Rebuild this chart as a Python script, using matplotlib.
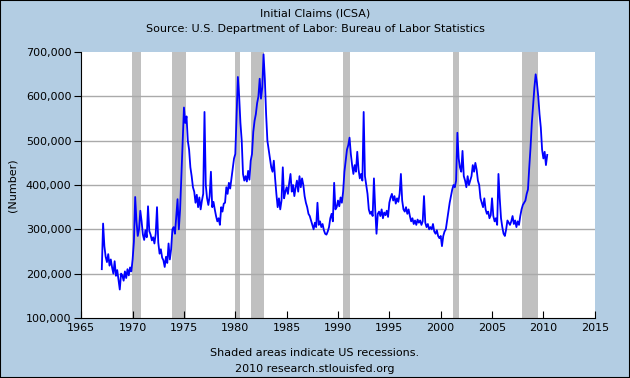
import numpy as np
import matplotlib
matplotlib.use("Agg")
from matplotlib import pyplot as plt
from matplotlib.ticker import FuncFormatter

# weekly initial claims, thousands (8 readings per year from 1967.0)
claims = [
    210, 313, 262, 238, 226, 244, 218, 232,   # 1967
    214, 200, 228, 195, 208, 186, 164, 200,   # 1968
    196, 184, 205, 190, 210, 196, 214, 205,   # 1969
    232, 272, 373, 318, 285, 300, 342, 318,   # 1970
    288, 276, 298, 282, 352, 296, 288, 275,   # 1971
    282, 268, 290, 350, 270, 245, 255, 236,   # 1972
    230, 215, 238, 224, 268, 232, 255, 300,   # 1973
    305, 290, 330, 368, 300, 345, 420, 500,   # 1974
    575, 540, 555, 500, 480, 440, 420, 395,   # 1975
    385, 360, 378, 350, 372, 345, 365, 380,   # 1976
    565, 400, 370, 355, 375, 430, 350, 362,   # 1977
    345, 330, 318, 325, 310, 350, 340, 358,   # 1978
    360, 395, 380, 405, 392, 415, 440, 460,   # 1979
    470, 560, 644, 600, 540, 500, 425, 410,   # 1980
    420, 408, 432, 412, 455, 470, 520, 545,   # 1981
    560, 585, 600, 640, 595, 620, 695, 640,   # 1982
    560, 500, 480, 460, 440, 430, 455, 415,   # 1983
    380, 350, 370, 345, 365, 440, 370, 385,   # 1984
    395, 380, 405, 425, 385, 400, 375, 395,   # 1985
    410, 385, 420, 395, 415, 400, 375, 360,   # 1986
    350, 335, 330, 320, 310, 300, 315, 305,   # 1987
    360, 310, 318, 305, 312, 298, 290, 288,   # 1988
    295, 305, 325, 335, 318, 405, 345, 350,   # 1989
    365, 352, 372, 360, 385, 430, 455, 480,   # 1990
    490, 507, 470, 445, 425, 445, 430, 475,   # 1991
    435, 415, 425, 410, 565, 420, 400, 380,   # 1992
    345, 335, 340, 330, 415, 345, 290, 335,   # 1993
    340, 330, 345, 325, 338, 332, 342, 328,   # 1994
    360, 372, 380, 365, 375, 358, 370, 362,   # 1995
    380, 425, 365, 345, 340, 350, 335, 345,   # 1996
    330, 318, 325, 312, 320, 310, 322, 315,   # 1997
    320, 310, 318, 375, 315, 305, 312, 300,   # 1998
    305, 300, 312, 295, 290, 298, 285, 280,   # 1999
    285, 262, 285, 295, 300, 320, 340, 360,   # 2000
    375, 390, 400, 395, 410, 518, 460, 440,   # 2001
    430, 477, 420, 410, 395, 420, 400, 410,   # 2002
    420, 445, 430, 450, 435, 410, 400, 370,   # 2003
    360, 350, 370, 345, 335, 340, 325, 332,   # 2004
    370, 330, 318, 325, 310, 425, 370, 325,   # 2005
    305, 290, 285, 300, 320, 315, 310, 318,   # 2006
    330, 312, 320, 305, 318, 310, 330, 345,   # 2007
    355, 360, 365, 380, 390, 440, 485, 540,   # 2008
    580, 620, 650, 630, 600, 560, 530, 480,   # 2009
    460, 475, 445, 468,                       # 2010
]
years = 1967 + np.arange(len(claims)) / 8.0

recession_start = [1969.92, 1973.83, 1980.0, 1981.5, 1990.5, 2001.17, 2007.92]
recession_end = [1970.83, 1975.17, 1980.5, 1982.83, 1991.17, 2001.83, 2009.5]

bg = '#b3cde3'
fig = plt.figure(figsize=(6.3, 3.78), dpi=100, facecolor=bg)
fig.patches.append(plt.Rectangle((0, 0), 1, 1, transform=fig.transFigure,
                                 fill=False, edgecolor='black', lw=1.5))
ax = fig.add_axes([0.129, 0.159, 0.815, 0.703])
ax.set_facecolor('white')

for s, e in zip(recession_start, recession_end):
    ax.axvspan(s, e, color='#c0c0c0', lw=0, zorder=1)

ax.plot(years, np.array(claims) * 1000, color='#0000ff', lw=1.3, zorder=3)

ax.set_xlim(1965, 2015)
ax.set_ylim(100000, 700000)
ax.set_xticks(range(1965, 2016, 5))
ax.set_yticks(range(100000, 700001, 100000))
ax.yaxis.set_major_formatter(FuncFormatter(lambda v, p: f'{int(v):,}'))
for y in range(200000, 700000, 100000):
    ax.axhline(y, color='#aaaaaa', lw=1, zorder=2)

for side in ['top', 'right']:
    ax.spines[side].set_visible(False)
ax.spines['left'].set_zorder(4)
ax.spines['bottom'].set_zorder(4)
ax.tick_params(axis='y', direction='out', length=5, labelsize=8, pad=2)
ax.tick_params(axis='x', direction='in', length=5, labelsize=8, pad=4)
ax.set_ylabel('(Number)', fontsize=8, labelpad=6)

fig.text(0.5, 0.965, 'Initial Claims (ICSA)', ha='center', va='center', fontsize=8)
fig.text(0.5, 0.923, 'Source: U.S. Department of Labor: Bureau of Labor Statistics',
         ha='center', va='center', fontsize=8)
fig.text(0.5, 0.066, 'Shaded areas indicate US recessions.', ha='center', va='center', fontsize=8)
fig.text(0.5, 0.024, '2010 research.stlouisfed.org', ha='center', va='center', fontsize=8)

fig.savefig('out.png', dpi=100, facecolor=bg)
